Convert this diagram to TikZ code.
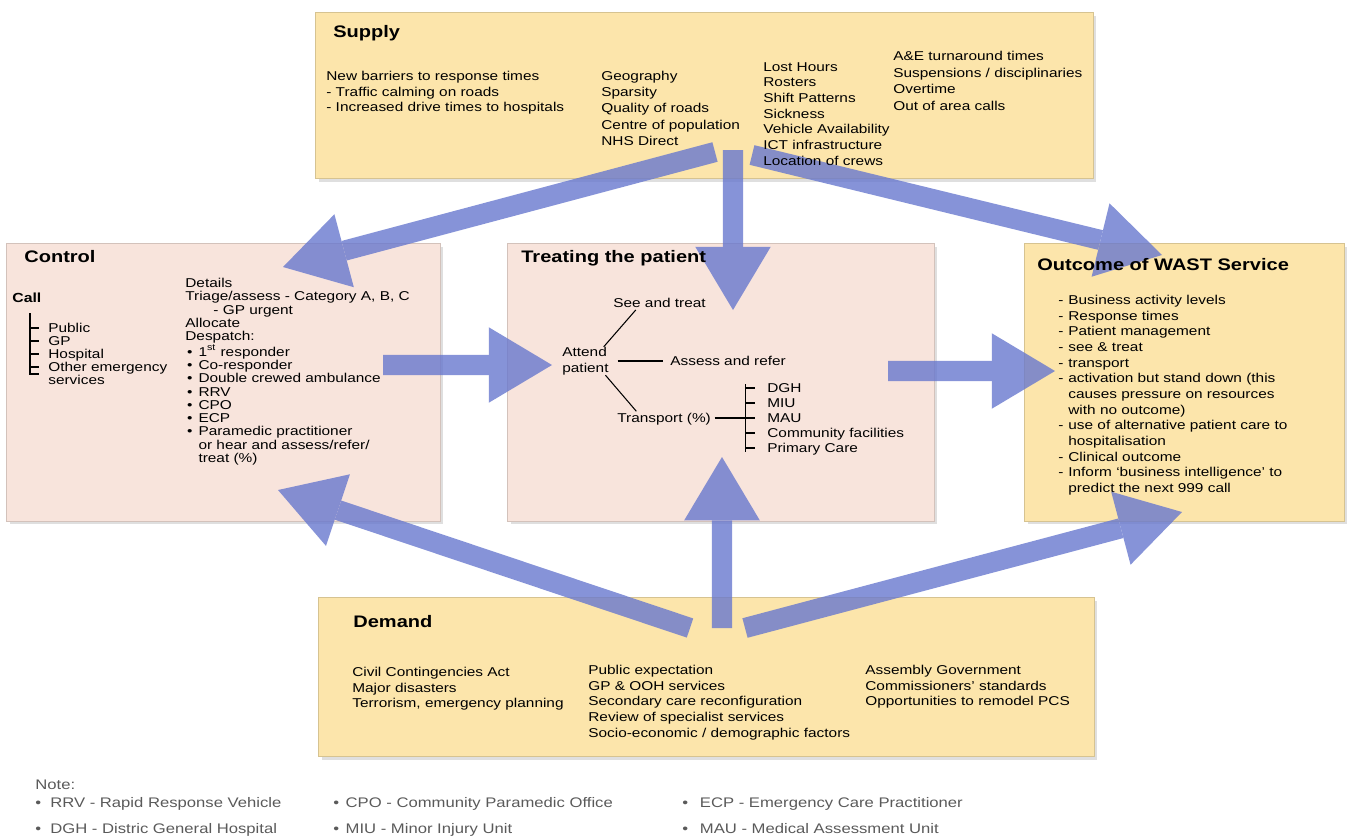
\documentclass[tikz,border=0pt]{standalone}
\usepackage{fontspec}
\setmainfont[FakeStretch=1.2]{Liberation Sans}
\usepackage{xcolor}
\usetikzlibrary{arrows.meta,positioning,shadows,calc}
\definecolor{wastyellow}{RGB}{252,229,171}
\definecolor{wastpink}{RGB}{248,228,220}
\definecolor{wastblue}{RGB}{104,120,206}
\definecolor{notegrey}{RGB}{90,90,90}
\newcommand{\dotitem}{\hspace*{1pt}\makebox[6.5pt][l]{\textbullet}}
\newcommand{\dashitem}{\makebox[5.7pt][l]{-}}

\begin{document}
\begin{tikzpicture}[
  x=0.02cm, y=-0.02cm,
  yellowbox/.style={rectangle, fill=wastyellow, draw=wastyellow!85!black, line width=0.3pt, drop shadow={shadow xshift=2pt, shadow yshift=-2pt, opacity=0.25}},
  pinkbox/.style={rectangle, fill=wastpink, draw=wastpink!85!black, line width=0.3pt, drop shadow={shadow xshift=2pt, shadow yshift=-2pt, opacity=0.25}},
  boxtitle/.style={anchor=west, inner sep=0pt, font=\fontsize{9.5}{11}\selectfont\bfseries},
  list/.style={anchor=north west, inner sep=0pt, align=left, font=\fontsize{7.3}{8.9}\selectfont},
  tightlist/.style={list, font=\fontsize{7.3}{7.55}\selectfont},
  leaf/.style={anchor=mid west, inner sep=0pt, font=\fontsize{7.3}{8.9}\selectfont},
  note/.style={anchor=mid west, inner sep=0pt, text=notegrey, font=\fontsize{7.9}{9}\selectfont},
  tree/.style={line width=0.6pt},
  flow/.style={-{Triangle[length=36pt,width=43pt,line width=0pt]}, line width=11.5pt, draw=wastblue}
]
\useasboundingbox (0,0) rectangle (1370,839);

% boxes
\node[yellowbox, minimum width=15.56cm, minimum height=3.32cm] (supply) at (704,95) {};
\node[pinkbox, minimum width=8.68cm, minimum height=5.56cm] (control) at (223,382) {};
\node[pinkbox, minimum width=8.54cm, minimum height=5.56cm] (treat) at (720.5,382) {};
\node[yellowbox, minimum width=6.4cm, minimum height=5.56cm] (outcome) at (1184,382) {};
\node[yellowbox, minimum width=15.52cm, minimum height=3.18cm] (demand) at (706,676.5) {};

% arrow ends
\coordinate (supleft) at (715,152);
\coordinate (supmid) at (733,150);
\coordinate (supright) at (752,155);
\coordinate (ctrlin) at (283,267);
\coordinate (treatin) at (733,310);
\coordinate (outin) at (1162,255);
\coordinate (ctrlout) at (383,365);
\coordinate (treatleft) at (552,365);
\coordinate (treatout) at (888,371);
\coordinate (outleft) at (1055,371);
\coordinate (demleft) at (690,628);
\coordinate (demmid) at (722,628);
\coordinate (demright) at (745,628);
\coordinate (ctrlfoot) at (278,490);
\coordinate (treatfoot) at (722,457);
\coordinate (outfoot) at (1182,512);

\begin{scope}[transparency group, opacity=0.8]
\draw[flow] (supleft) -- (ctrlin);
\draw[flow] (supmid) -- (treatin);
\draw[flow] (supright) -- (outin);
\draw[flow] (ctrlout) -- (treatleft);
\draw[flow] (treatout) -- (outleft);
\draw[flow] (demleft) -- (ctrlfoot);
\draw[flow] (demmid) -- (treatfoot);
\draw[flow] (demright) -- (outfoot);
\end{scope}

% supply
\node[boxtitle] (supplytitle) at (333,33) {Supply};
\node[list] (barriers) at (326,71) {New barriers to response times\\- Traffic calming on roads\\- Increased drive times to hospitals};
\node[list, font=\fontsize{7.3}{9.2}\selectfont] (geography) at (601,71) {Geography\\Sparsity\\Quality of roads\\Centre of population\\NHS Direct};
\node[list] (hours) at (763,62) {Lost Hours\\Rosters\\Shift Patterns\\Sickness\\Vehicle Availability\\ICT infrastructure\\Location of crews};
\node[list, font=\fontsize{7.3}{9.4}\selectfont] (turnaround) at (893,51) {A\&E turnaround times\\Suspensions / disciplinaries\\Overtime\\Out of area calls};

% control
\node[boxtitle] (controltitle) at (24,257) {Control};
\node[leaf, font=\fontsize{7.5}{9}\selectfont\bfseries] (call) at (12,298) {Call};
\node[leaf] (public) at (48,328) {Public};
\node[leaf] (gp) at (48,341) {GP};
\node[leaf] (hospital) at (48,354) {Hospital};
\node[leaf] (other) at (48,367) {Other emergency};
\node[leaf] (services) at (48,380) {services};
\coordinate (treetop) at (30,313);
\coordinate (treebot) at (30,374);
\draw[tree] (treetop) -- (treebot) -- ++(9,0);
\foreach \n in {public,gp,hospital,other}
  \draw[tree] (\n.mid west -| treetop) -- ++(9,0);
\node[tightlist] (despatch) at (185,278) {Details\\Triage/assess - Category A, B, C\\\hspace*{16pt}- GP urgent\\Allocate\\Despatch:\\\dotitem 1\textsuperscript{st} responder\\\dotitem Co-responder\\\dotitem Double crewed ambulance\\\dotitem RRV\\\dotitem CPO\\\dotitem ECP\\\dotitem Paramedic practitioner\\\hspace*{7.5pt}or hear and assess/refer/\\\hspace*{7.5pt}treat (\%)};

% treating the patient
\node[boxtitle] (treattitle) at (521,258) {Treating the patient};
\node[list, anchor=west] (attend) at (562,361) {Attend\\patient};
\node[leaf] (seetreat) at (613,303) {See and treat};
\node[leaf] (assess) at (670,361) {Assess and refer};
\node[leaf] (transport) at (617,418) {Transport (\%)};
\node[leaf] (dgh) at (767,388) {DGH};
\node[leaf] (miu) at (767,403) {MIU};
\node[leaf] (mau) at (767,418) {MAU};
\node[leaf] (comm) at (767,433) {Community facilities};
\node[leaf] (prim) at (767,448) {Primary Care};
\draw[tree] ([xshift=-3pt]attend.north east) -- ([xshift=13pt,yshift=-1pt]seetreat.south west);
\draw[tree] ([xshift=5pt]attend.east) -- ([xshift=-4pt]assess.mid west);
\draw[tree] ([xshift=-2pt]attend.south east) -- ([xshift=11pt,yshift=1pt]transport.north west);
\draw[tree] ([xshift=2pt]transport.mid east) -- ([xshift=-12pt]mau.mid west);
\draw[tree] ([xshift=-12pt,yshift=2pt]dgh.mid west) -- ([xshift=-12pt,yshift=-2pt]prim.mid west);
\foreach \n in {dgh,miu,mau,comm,prim}
  \draw[tree] ([xshift=-12pt]\n.mid west) -- ([xshift=-7pt]\n.mid west);

% outcome
\node[boxtitle] (outtitle) at (1037,265) {Outcome of WAST Service};
\node[list] (outlist) at (1058,295) {\dashitem Business activity levels\\\dashitem Response times\\\dashitem Patient management\\\dashitem see \& treat\\\dashitem transport\\\dashitem activation but stand down (this\\\hspace*{5.7pt}causes pressure on resources\\\hspace*{5.7pt}with no outcome)\\\dashitem use of alternative patient care to\\\hspace*{5.7pt}hospitalisation\\\dashitem Clinical outcome\\\dashitem Inform `business intelligence' to\\\hspace*{5.7pt}predict the next 999 call};

% demand
\node[boxtitle] (demtitle) at (353,622) {Demand};
\node[list] (civil) at (352,667) {Civil Contingencies Act\\Major disasters\\Terrorism, emergency planning};
\node[list] (expect) at (588,665) {Public expectation\\GP \& OOH services\\Secondary care reconfiguration\\Review of specialist services\\Socio-economic / demographic factors};
\node[list] (assembly) at (865,665) {Assembly Government\\Commissioners' standards\\Opportunities to remodel PCS};

% notes
\node[note] (notehead) at (35,785) {Note:};
\node[note] (rrv) at (35,803) {\makebox[8.5pt][l]{\textbullet}RRV - Rapid Response Vehicle};
\node[note] (cpo) at (333,803) {\makebox[7pt][l]{\textbullet}CPO - Community Paramedic Office};
\node[note] (ecp) at (682,803) {\makebox[10pt][l]{\textbullet}ECP - Emergency Care Practitioner};
\node[note] (dghnote) at (35,829) {\makebox[8.5pt][l]{\textbullet}DGH - Distric General Hospital};
\node[note] (miunote) at (333,829) {\makebox[7pt][l]{\textbullet}MIU - Minor Injury Unit};
\node[note] (maunote) at (682,829) {\makebox[10pt][l]{\textbullet}MAU - Medical Assessment Unit};
\end{tikzpicture}
\end{document}
